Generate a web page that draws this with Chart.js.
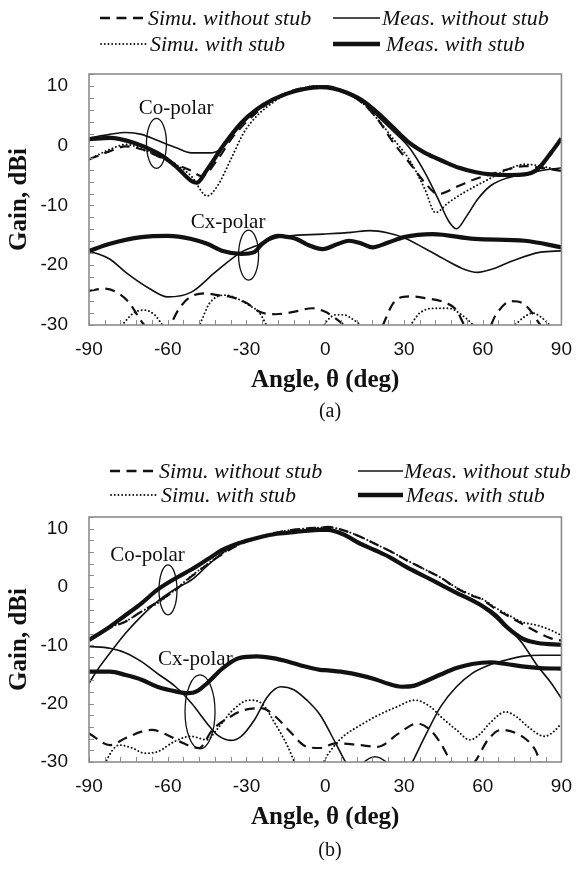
<!DOCTYPE html>
<html><head><meta charset="utf-8">
<script src="https://cdn.jsdelivr.net/npm/chart.js@4.4.0/dist/chart.umd.min.js"></script>
<style>
html,body{margin:0;padding:0;background:#fff;}
#page{position:relative;width:585px;height:877px;overflow:hidden;background:#fff;}
canvas{position:absolute;left:0;}
.lg{position:absolute;font-family:"Liberation Serif","Times New Roman",serif;font-style:italic;font-size:22px;line-height:24px;height:24px;color:#111;white-space:nowrap;}
.sw{position:absolute;}
.cap{position:absolute;font-family:"Liberation Serif","Times New Roman",serif;font-size:20px;line-height:24px;color:#111;width:60px;text-align:center;}
</style></head>
<body><div id="page">
<canvas id="ca" width="585" height="400" style="top:0px"></canvas>
<canvas id="cb" width="585" height="400" style="top:440px"></canvas>

<!-- legend (a) -->
<svg class="sw" style="left:100px;top:15px" width="47" height="6"><line x1="0" y1="3" x2="47" y2="3" stroke="#111" stroke-width="2.4" stroke-dasharray="10 6.5"/></svg>
<div class="lg" style="left:148px;top:6px">Simu. without stub</div>
<svg class="sw" style="left:333px;top:15px" width="47" height="6"><line x1="0" y1="3" x2="47" y2="3" stroke="#111" stroke-width="1.6"/></svg>
<div class="lg" style="left:382px;top:6px">Meas. without stub</div>
<svg class="sw" style="left:100px;top:41px" width="47" height="6"><line x1="1" y1="3" x2="47" y2="3" stroke="#111" stroke-width="1.8" stroke-linecap="round" stroke-dasharray="0.1 3.6"/></svg>
<div class="lg" style="left:150px;top:32px">Simu. with stub</div>
<svg class="sw" style="left:333px;top:41px" width="47" height="6"><line x1="0" y1="3" x2="47" y2="3" stroke="#111" stroke-width="4.5"/></svg>
<div class="lg" style="left:386px;top:32px">Meas. with stub</div>
<div class="cap" style="left:300px;top:398px">(a)</div>

<!-- legend (b) -->
<svg class="sw" style="left:110px;top:468px" width="47" height="6"><line x1="0" y1="3" x2="47" y2="3" stroke="#111" stroke-width="2.4" stroke-dasharray="10 6.5"/></svg>
<div class="lg" style="left:159px;top:459px">Simu. without stub</div>
<svg class="sw" style="left:358px;top:468px" width="45" height="6"><line x1="0" y1="3" x2="45" y2="3" stroke="#111" stroke-width="1.6"/></svg>
<div class="lg" style="left:404px;top:459px">Meas. without stub</div>
<svg class="sw" style="left:110px;top:492px" width="47" height="6"><line x1="1" y1="3" x2="47" y2="3" stroke="#111" stroke-width="1.8" stroke-linecap="round" stroke-dasharray="0.1 3.6"/></svg>
<div class="lg" style="left:161px;top:483px">Simu. with stub</div>
<svg class="sw" style="left:358px;top:492px" width="45" height="6"><line x1="0" y1="3" x2="45" y2="3" stroke="#111" stroke-width="4.5"/></svg>
<div class="lg" style="left:406px;top:483px">Meas. with stub</div>
<div class="cap" style="left:300px;top:837px">(b)</div>
</div>
<script>
// ---------- Panel (a) : Co-polar ----------
const aCoSimNoX   = [-90,-82,-76,-70,-64,-57,-51,-47,-41,-35,-29,-22,-15,-8,-2,3,8,14,20,26,32,38,43,51,57,63,70,76,82,90];
const aCoSimNoY   = [-2.3,-0.9,-0.1,-0.6,-1.7,-3.1,-4.2,-5.1,-2.3,1.6,4.4,7.0,8.8,9.7,10.0,9.8,8.9,7.2,4.4,0.5,-2.8,-6.2,-8.1,-6.7,-5.6,-4.8,-3.9,-3.4,-3.7,-4.2];
const aCoSimStubX = [-90,-82,-76,-70,-64,-57,-51,-45,-41,-36,-31,-26,-20,-14,-8,-2,3,8,14,20,26,32,38,42,47,53,61,70,76,82,90];
const aCoSimStubY = [-2.3,-0.6,0.2,-0.5,-1.7,-3.1,-5.1,-8.4,-6.7,-2.3,2.2,5.0,7.2,8.8,9.7,10.0,9.8,8.9,7.2,4.4,1.1,-2.3,-7.3,-11.2,-9.5,-7.8,-5.9,-3.9,-3.1,-3.4,-4.2];
const aCoMeasNoX  = [-90,-82,-76,-70,-64,-57,-51,-44,-40,-35,-29,-22,-15,-8,-2,3,8,14,20,26,32,38,43,47,50,54,58,63,70,76,82,90];
const aCoMeasNoY  = [1.3,1.9,2.2,1.9,0.9,-0.3,-1.2,-1.2,-0.6,2.2,5.0,7.2,8.7,9.5,9.8,9.6,8.8,7.4,4.9,2.4,-0.3,-4.5,-8.9,-12.6,-13.9,-11.7,-9.0,-6.7,-5.3,-4.8,-4.2,-3.7];
const aCoMeasStubX= [-90,-82,-73,-64,-57,-51,-49,-45,-39,-32,-26,-20,-14,-8,-2,3,8,14,20,26,32,38,45,51,57,63,70,76,81,86,90];
const aCoMeasStubY= [1.1,1.3,0.5,-1.2,-3.4,-5.9,-6.2,-4.0,-0.1,3.8,6.1,7.7,8.8,9.5,9.8,9.6,8.9,7.6,5.5,3.0,0.5,-1.2,-2.6,-3.7,-4.4,-4.8,-4.9,-4.8,-3.9,-1.2,1.2];
// ---------- Panel (a) : Cx-polar ----------
const aCxSimNoX   = [-90,-84,-80,-75,-70,-66,-62,-59,-56,-52,-46,-41,-36,-30,-25,-19,-12,-5,0,3,7,10,16,20,22,26,32,38,46,50,53,57,62,65,71,75,78,82,86,90];
const aCxSimNoY   = [-24.3,-23.9,-24.4,-26.1,-29.4,-31.5,-32,-30.0,-27.5,-25.5,-24.7,-25,-25.3,-26.3,-27.8,-28.2,-27.8,-27.2,-27.8,-28.6,-30,-31.5,-33,-32,-30,-26.3,-25.2,-25.5,-26.3,-27.5,-30,-32,-31,-28.3,-26,-26.3,-27.5,-30,-32,-33];
const aCxSimStubX = [-90,-84,-78,-73,-69,-65,-62,-58,-54,-48,-44,-38,-34,-29,-25,-22,-18,-10,-4,0,4,7,11,14,18,26,32,36,42,47,52,57,62,67,73,76,79,82,86,90];
const aCxSimStubY = [-36,-33,-30.3,-28,-27.5,-28.3,-30,-32,-33,-30,-26.3,-25,-25.5,-26.7,-28,-30.3,-33,-36,-33,-29.7,-28.3,-28.3,-29.2,-30.3,-33,-33,-30.3,-28,-27.2,-27.2,-28.3,-30.3,-33,-32,-29.7,-28.6,-28,-28.6,-30.3,-33];
const aCxMeasNoX  = [-90,-82,-76,-67,-60,-51,-42,-32,-26,-20,-14,-1,10,17,24,30,38,45,52,58,64,70,82,90];
const aCxMeasNoY  = [-17.6,-19.0,-21.2,-23.9,-25.3,-24.5,-21.2,-17.8,-16.7,-15.6,-15.1,-14.8,-14.5,-14.2,-14.6,-15.4,-17.2,-18.9,-20.5,-21.2,-20.6,-19.5,-17.8,-17.6];
const aCxMeasStubX= [-90,-82,-70,-60,-51,-45,-39,-32,-27,-24,-18,-14,-11,-6,-1,5,9,14,18,24,30,41,57,76,90];
const aCxMeasStubY= [-17.6,-16.4,-15.3,-15.1,-15.6,-16.4,-17.6,-18.1,-17.8,-16.4,-15.1,-15.3,-15.6,-16.7,-17.3,-16.4,-15.9,-16.4,-17.0,-16.2,-15.3,-14.8,-15.6,-15.9,-17.0];

// ---------- Panel (b) : Co-polar ----------
const bCoSimNoX   = [-90,-82,-76,-70,-64,-57,-51,-45,-39,-33,-26,-20,-14,-8,-2,1,7,13,19,25,31,38,44,50,56,60,65,69,75,81,86,90];
const bCoSimNoY   = [-9.0,-7.0,-5.9,-4.2,-2.6,-0.5,1.8,3.8,5.7,7.2,8.4,9.2,9.7,10.0,10.2,10.3,9.7,8.7,7.4,6.1,4.6,3.0,1.6,-0.2,-1.5,-2.2,-3.8,-4.8,-6.3,-7.8,-8.8,-9.2];
const bCoSimStubX = [-90,-82,-76,-70,-64,-57,-51,-45,-39,-33,-26,-20,-14,-8,-2,1,7,13,19,25,31,38,44,50,56,60,65,69,75,81,86,90];
const bCoSimStubY = [-8.8,-6.9,-5.9,-4.2,-2.8,-0.4,1.9,3.9,5.8,7.3,8.4,9.2,9.7,10.0,10.2,10.3,9.7,8.7,7.4,6.1,4.6,3.0,1.6,-0.1,-1.4,-2.1,-3.6,-4.6,-6.0,-6.6,-7.4,-8.3];
const bCoMeasNoX  = [-90,-86,-82,-76,-70,-64,-57,-51,-45,-39,-33,-26,-20,-14,-8,-2,1,7,13,19,25,31,38,44,50,56,61,65,70,75,81,86,90];
const bCoMeasNoY  = [-16.5,-13.7,-11.3,-7.9,-5.0,-2.5,-0.3,1.2,3.6,5.9,7.4,8.4,9.0,9.3,9.6,9.8,9.8,9.0,7.5,6.3,5.0,3.4,1.8,0.4,-1.0,-2.3,-3.4,-4.6,-7.0,-9.6,-13.6,-16.4,-19.1];
const bCoMeasStubX= [-90,-82,-76,-70,-64,-57,-51,-45,-39,-33,-26,-20,-14,-8,-2,1,7,13,19,25,31,38,44,50,56,60,65,69,75,81,90];
const bCoMeasStubY= [-9.1,-6.8,-4.8,-2.8,-0.5,1.5,3.0,4.7,6.4,7.5,8.4,9.0,9.3,9.6,9.8,9.8,9.0,7.5,6.3,5.0,3.4,1.8,0.4,-1.0,-2.3,-3.3,-5.0,-6.8,-8.8,-9.6,-9.9];
// ---------- Panel (b) : Cx-polar ----------
const bCxSimNoX   = [-90,-82,-76,-70,-66,-60,-54,-48,-43,-36,-31,-24,-19,-14,-7,-2,4,13,20,28,35,40,44,48,52,57,62,67,75,80,82,86,90];
const bCxSimNoY   = [-25.1,-27.1,-25.9,-24.8,-24.5,-25.4,-26.8,-27.6,-24.5,-22.2,-21.1,-20.8,-22.2,-24.5,-27.4,-27.6,-26.8,-27.1,-27.4,-25.1,-23.4,-24.5,-26.8,-30,-32,-30,-26.2,-24.5,-25.6,-27.9,-30,-32,-33];
const bCxSimStubX = [-90,-86,-83.5,-78.5,-73.6,-68.6,-63.7,-57.5,-51.3,-45,-41.4,-35.2,-29,-24.1,-19.1,-14.2,-11.7,-8,-3,-0.6,3,6.9,13,19.2,27,34.1,40,44,50,55.1,59,62.6,68.7,73,77.4,83.6,87,90];
const bCxSimStubY = [-36,-33,-29.9,-27.1,-27.6,-28.5,-28.2,-26.5,-25.6,-26.2,-24.5,-21.1,-19.4,-20,-23.4,-27.4,-30,-33,-33,-30,-27.5,-25.6,-23.8,-22.2,-20.6,-19.4,-20.5,-22.2,-24.5,-26.2,-25.2,-23.4,-21.4,-22.3,-24.0,-25.6,-24.8,-23.4];
const bCxMeasNoX  = [-90,-82,-76,-70,-64,-57,-51,-45,-41,-36,-32,-27,-22,-17,-12,-7,-2,4,8,11,14,19,24,27,30,33,38,44,50,56,63,69,75,82,90];
const bCxMeasNoY  = [-10.2,-10.5,-11.3,-12.8,-14.8,-17.1,-19.9,-23.4,-25.4,-26.3,-25.6,-22.8,-18.8,-17.1,-17.6,-19.4,-21.9,-26.8,-30.2,-32,-30.3,-29.1,-30.3,-32,-32.5,-30.2,-25.6,-20.5,-17.1,-14.8,-13.3,-12.5,-11.9,-11.7,-11.7];
const bCxMeasStubX= [-90,-82,-76,-70,-64,-57,-52,-49,-45,-39,-33,-26,-20,-14,-8,-2,1,7,13,19,24,29,34,38,44,50,56,63,69,75,82,90];
const bCxMeasStubY= [-14.5,-14.5,-15.1,-15.9,-17.1,-17.9,-18.2,-17.9,-16.5,-13.9,-12.2,-11.9,-12.2,-12.8,-13.6,-14.2,-14.3,-14.6,-15.1,-15.8,-16.6,-17.1,-16.9,-16.2,-15.0,-13.9,-13.2,-12.9,-13.2,-13.6,-13.9,-14.0];

// axis settings and tick labels
const xMin = -90, xMax = 90, xMinor = 6;
const yMin = -30, yMax = 12, yMinor = 2;
const xTickVals = [-90, -60, -30, 0, 30, 60, 90];
const yTickVals = [-30, -20, -10, 0, 10];

const pts = (xs, ys) => xs.map((x, i) => ({x, y: ys[i]}));
const INK = '#111';
const styles = {
  simNo:   {borderWidth: 2.2, borderDash: [10, 6.5], borderCapStyle: 'butt'},
  simStub: {borderWidth: 1.9, borderDash: [0.1, 3.6], borderCapStyle: 'round'},
  measNo:  {borderWidth: 1.6, borderDash: []},
  measStub:{borderWidth: 4.2, borderDash: []}
};
function ds(label, kind, xs, ys) {
  return Object.assign({label, data: pts(xs, ys), borderColor: INK, backgroundColor: INK,
    pointRadius: 0, fill: false, cubicInterpolationMode: 'monotone', tension: 0.4}, styles[kind]);
}

const deco = {
  id: 'deco',
  afterDatasetsDraw(chart, args, o) {
    const {ctx, chartArea: a, scales: {x, y}} = chart;
    ctx.save();
    ctx.strokeStyle = '#8c8c8c';
    ctx.lineWidth = 1;
    ctx.beginPath();
    for (let v = xMin; v <= xMax + 1e-9; v += xMinor) {
      const p = Math.round(x.getPixelForValue(v)) + 0.5;
      ctx.moveTo(p, a.bottom); ctx.lineTo(p, a.bottom - 5);
    }
    for (let v = yMin; v <= yMax + 1e-9; v += yMinor) {
      const p = Math.round(y.getPixelForValue(v)) + 0.5;
      ctx.moveTo(a.left, p); ctx.lineTo(a.left + 5, p);
    }
    ctx.stroke();
    ctx.lineWidth = 1.6;
    ctx.strokeRect(a.left, a.top, a.right - a.left, a.bottom - a.top);
    ctx.fillStyle = INK; ctx.strokeStyle = INK; ctx.lineWidth = 1.3;
    ctx.font = '21px "Liberation Serif"';
    ctx.textAlign = 'center'; ctx.textBaseline = 'middle';
    (o.notes || []).forEach(n => {
      ctx.fillText(n.text, x.getPixelForValue(n.tx), y.getPixelForValue(n.ty));
      ctx.beginPath();
      ctx.ellipse(x.getPixelForValue(n.ex), y.getPixelForValue(n.ey), n.rx, n.ry, 0, 0, Math.PI * 2);
      ctx.stroke();
    });
    ctx.restore();
  }
};

function makeChart(id, datasets, L) {
  return new Chart(document.getElementById(id), {
    type: 'line',
    data: {datasets},
    plugins: [deco],
    options: {
      responsive: false, animation: false, devicePixelRatio: 1,
      layout: {padding: {top: L.top, right: L.right, left: 0, bottom: 0}},
      plugins: {legend: {display: false}, tooltip: {enabled: false}, deco: {notes: L.notes}},
      scales: {
        x: {
          type: 'linear', min: xMin, max: xMax,
          grid: {display: false, drawTicks: false}, border: {display: false},
          afterBuildTicks: s => { s.ticks = xTickVals.map(v => ({value: v})); },
          ticks: {autoSkip: false, maxRotation: 0, padding: 13, color: INK,
                  font: {family: 'Liberation Sans', size: 19}},
          title: {display: true, text: 'Angle, θ (deg)', color: INK,
                  font: {family: 'Liberation Serif', size: 25, weight: 'bold'}, padding: {top: 0, bottom: L.tpad}},
          afterFit: s => { s.height = L.xh; }
        },
        y: {
          type: 'linear', min: yMin, max: yMax,
          grid: {display: false, drawTicks: false}, border: {display: false},
          afterBuildTicks: s => { s.ticks = yTickVals.map(v => ({value: v})); },
          ticks: {autoSkip: false, padding: 21, color: INK, font: {family: 'Liberation Sans', size: 19}},
          title: {display: true, text: 'Gain, dBi', color: INK,
                  font: {family: 'Liberation Serif', size: 25, weight: 'bold'}, padding: {top: 5, bottom: 0}},
          afterFit: s => { s.width = 89; }
        }
      }
    }
  });
}

makeChart('ca', [
  ds('Simu. without stub', 'simNo', aCoSimNoX, aCoSimNoY),
  ds('Simu. with stub', 'simStub', aCoSimStubX, aCoSimStubY),
  ds('Meas. without stub', 'measNo', aCoMeasNoX, aCoMeasNoY),
  ds('Meas. with stub', 'measStub', aCoMeasStubX, aCoMeasStubY),
  ds('Simu. without stub (Cx)', 'simNo', aCxSimNoX, aCxSimNoY),
  ds('Simu. with stub (Cx)', 'simStub', aCxSimStubX, aCxSimStubY),
  ds('Meas. without stub (Cx)', 'measNo', aCxMeasNoX, aCxMeasNoY),
  ds('Meas. with stub (Cx)', 'measStub', aCxMeasStubX, aCxMeasStubY)
], {top: 74, right: 14, xh: 75, tpad: 4, notes: [
  {text: 'Co-polar', tx: -56.8, ty: 6.2, ex: -64.3, ey: 0.4, rx: 10, ry: 25},
  {text: 'Cx-polar', tx: -37, ty: -12.8, ex: -29.2, ey: -18.3, rx: 10, ry: 25}
]});

makeChart('cb', [
  ds('Simu. without stub', 'simNo', bCoSimNoX, bCoSimNoY),
  ds('Simu. with stub', 'simStub', bCoSimStubX, bCoSimStubY),
  ds('Meas. without stub', 'measNo', bCoMeasNoX, bCoMeasNoY),
  ds('Meas. with stub', 'measStub', bCoMeasStubX, bCoMeasStubY),
  ds('Simu. without stub (Cx)', 'simNo', bCxSimNoX, bCxSimNoY),
  ds('Simu. with stub (Cx)', 'simStub', bCxSimStubX, bCxSimStubY),
  ds('Meas. without stub (Cx)', 'measNo', bCxMeasNoX, bCxMeasNoY),
  ds('Meas. with stub (Cx)', 'measStub', bCxMeasStubX, bCxMeasStubY)
], {top: 77, right: 11, xh: 78, tpad: 7, notes: [
  {text: 'Co-polar', tx: -67.7, ty: 5.4, ex: -59.9, ey: -0.5, rx: 9, ry: 25},
  {text: 'Cx-polar', tx: -49.5, ty: -12.5, ex: -47.7, ey: -21.4, rx: 15, ry: 37}
]});
</script>
</body></html>
